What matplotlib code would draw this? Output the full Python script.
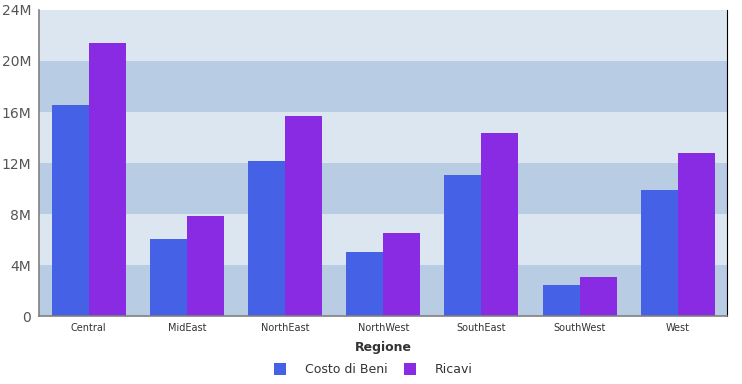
import numpy as np
import matplotlib.pyplot as plt
from matplotlib.ticker import FuncFormatter

regions = ['Central', 'MidEast', 'NorthEast', 'NorthWest', 'SouthEast', 'SouthWest', 'West']
costo = [16.55, 6.04, 12.16, 5.02, 11.06, 2.43, 9.88]
ricavi = [21.41, 7.84, 15.69, 6.51, 14.35, 3.06, 12.78]
y_ticks = [0, 4, 8, 12, 16, 20, 24]

fig = plt.figure(figsize=(7.42, 3.84), dpi=100)
ax = fig.add_axes([0.0532, 0.177, 0.9266, 0.797])

# alternating bands
for i in range(len(y_ticks) - 1):
    col = '#b8cce4' if i % 2 == 0 else '#dce6f0'
    ax.axhspan(y_ticks[i], y_ticks[i + 1], color=col, zorder=0, lw=0)

x = np.arange(len(regions))
w = 0.377
ax.bar(x - w / 2, costo, w, color='#4562e6', label='Costo di Beni', zorder=2)
ax.bar(x + w / 2, ricavi, w, color='#892be2', label='Ricavi', zorder=2)

ax.set_xlim(-0.5, len(regions) - 0.5)
ax.set_ylim(0, 24)
ax.set_yticks(y_ticks)
ax.yaxis.set_major_formatter(FuncFormatter(lambda v, p: '0' if v == 0 else f'{int(v)}M'))
ax.tick_params(axis='y', length=0, labelsize=10, labelcolor='#555555', pad=6)
ax.set_xticks(x)
ax.set_xticklabels(regions, fontsize=7, color='#333333')
ax.tick_params(axis='x', length=0, pad=5)

ax.spines['top'].set_visible(False)
ax.spines['left'].set_color('#808080')
ax.spines['bottom'].set_color('#808080')
ax.spines['right'].set_color('#000000')
ax.spines['left'].set_linewidth(1.2)
ax.spines['bottom'].set_linewidth(1.2)

ax.set_xlabel('Regione', fontsize=9, fontweight='bold', color='#333333', labelpad=6)

fig.legend(loc='center', bbox_to_anchor=(0.503, 0.037), ncol=2, frameon=False,
           fontsize=9, handlelength=1.0, handleheight=1.0, columnspacing=1.3,
           handletextpad=1.5, labelcolor='#333333', borderaxespad=0, borderpad=0)

plt.savefig('out.png', dpi=100)
